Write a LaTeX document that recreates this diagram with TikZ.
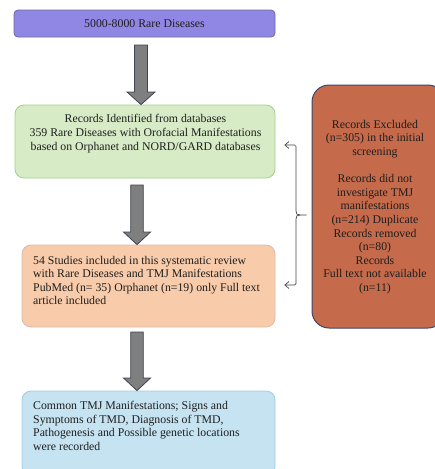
\documentclass[tikz,border=0pt]{standalone}
\usepackage{fontspec}
\setmainfont{Liberation Serif}
\usetikzlibrary{arrows.meta,calc}
\definecolor{purpfill}{HTML}{9086E4}
\definecolor{purpline}{HTML}{6E6A9A}
\definecolor{grnfill}{HTML}{D6EBC6}
\definecolor{grnline}{HTML}{A6D08F}
\definecolor{pchfill}{HTML}{F8CBAA}
\definecolor{pchline}{HTML}{D8BBAA}
\definecolor{blufill}{HTML}{C6E3F1}
\definecolor{bluline}{HTML}{A3CCE3}
\definecolor{redfill}{HTML}{C56A4A}
\definecolor{redline}{HTML}{3F4866}
\definecolor{arrfill}{HTML}{7F7F7F}
\definecolor{arrline}{HTML}{3F4553}
\definecolor{txtcol}{HTML}{1E1E1E}
\begin{document}
\begin{tikzpicture}[x=1pt,y=-1pt,
  box/.style={rectangle,rounded corners=#1,line width=0.8pt,inner sep=0pt},
  box/.default=6pt,
  txt/.style={inner sep=0pt,text=txtcol,font=\fontsize{11.8}{13.6}\selectfont},
  fatarrow/.style={fill=arrfill,draw=arrline,line width=0.8pt,line join=miter},
  thin/.style={draw=black!75,line width=0.7pt},
]
\useasboundingbox (0,0) rectangle (435,469);
% boxes
\node[box=4pt,fill=purpfill,draw=purpline,minimum width=261pt,minimum height=27pt] (b1) at (144.5,23.5) {};
\node[txt] (t1) at (144.5,23.5) {5000-8000 Rare Diseases};
\node[box=9pt,fill=grnfill,draw=grnline,minimum width=260pt,minimum height=73pt] (b2) at (145,141.5) {};
\node[txt,align=center] (t2) at (145.5,133.5) {Records Identified from databases\\359 Rare Diseases with Orofacial Manifestations\\based on Orphanet and NORD/GARD databases};
\node[box=9pt,fill=pchfill,draw=pchline,minimum width=253pt,minimum height=82pt] (b3) at (148.5,286) {};
\node[txt,align=left,anchor=west] (t3) at (33,280.5) {54 Studies included in this systematic review\\with Rare Diseases and TMJ Manifestations\\PubMed (n= 35) Orphanet (n=19) only Full text\\article included};
\node[box=9pt,fill=blufill,draw=bluline,minimum width=253pt,minimum height=84pt] (b4) at (148.5,433) {};
\node[txt,align=left,anchor=west] (t4) at (33,426) {Common TMJ Manifestations; Signs and\\Symptoms of TMD, Diagnosis of TMD,\\Pathogenesis and Possible genetic locations\\were recorded};
\node[box=17pt,fill=redfill,draw=redline,line width=1pt,minimum width=133pt,minimum height=243pt] (r) at (378.5,206.5) {};
\node[txt,align=center] (tr) at (375,207) {Records Excluded\\(n=305) in the initial\\screening\\[13.6pt]Records did not\\investigate TMJ\\manifestations\\(n=214) Duplicate\\Records removed\\(n=80)\\Records\\Full text not available\\(n=11)};
% fat arrows
\foreach \a/\b/\cx/\sw/\hw/\top/\hb in {b1/b2/141/6.5/14/45/92, b2/b3/137/6.3/13.5/185/232, b3/b4/137/6.3/13.5/332/378}{
  \draw[fatarrow] (\cx-\sw,\top) -- (\cx+\sw,\top) -- (\cx+\sw,\hb) -- (\cx+\hw,\hb) -- (\b.north -| \cx,0) -- (\cx-\hw,\hb) -- (\cx-\sw,\hb) -- cycle;
}
% bracket
\coordinate (ca) at ($(b2.east)+(9,3.5)$);
\coordinate (cb) at ($(b3.east)+(9,-1)$);
\coordinate (tick) at ($(r.west)+(-5,8.5)$);
\draw[thin,rounded corners=1.5pt,-{Straight Barb[length=4pt,width=7pt]}] (296,150) -- (296,145) -- (ca);
\draw[thin,rounded corners=1.5pt,-{Straight Barb[length=4pt,width=7pt]}] (296,280) -- (296,285) -- (cb);
\draw[thin] (296,150) -- (296,211) .. controls (296,214) and (297,215) .. (300,215) -- (tick);
\draw[thin] (296,280) -- (296,219) .. controls (296,216) and (297,215) .. (300,215);
\end{tikzpicture}
\end{document}
